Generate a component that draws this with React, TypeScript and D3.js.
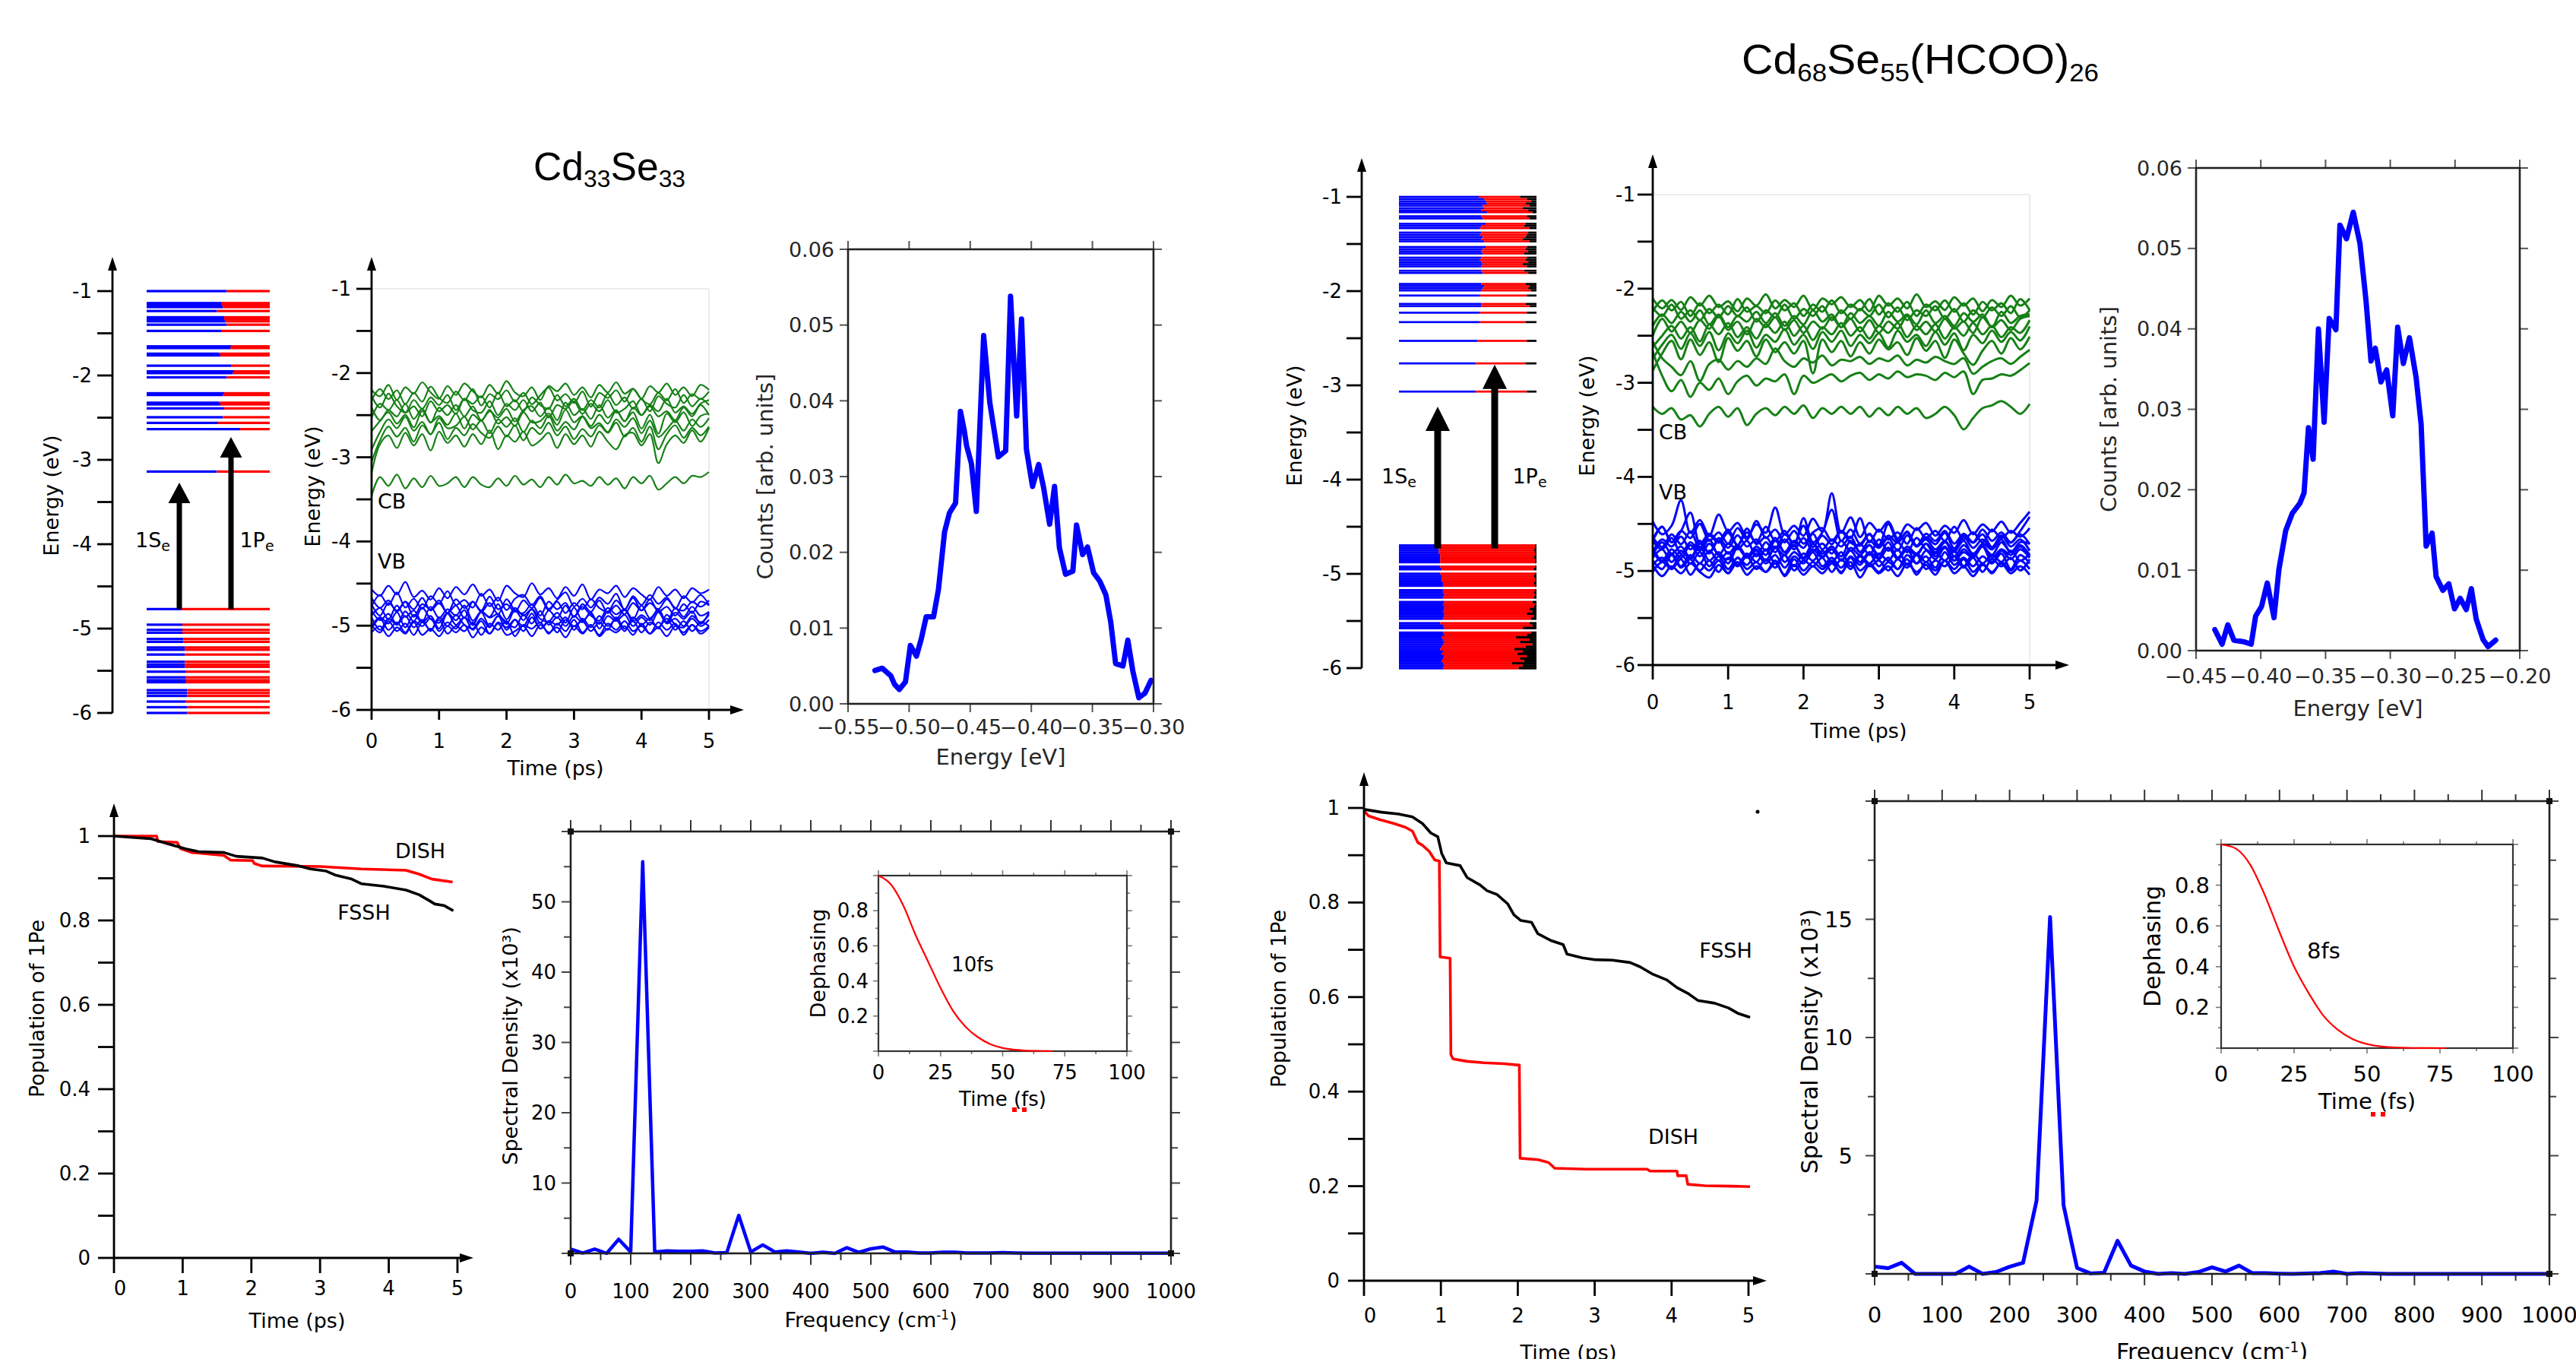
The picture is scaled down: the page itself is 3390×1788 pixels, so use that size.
import React from "react";
import * as d3 from "d3";

const W = 3390;
const H = 1788;
const SANS = "'DejaVu Sans', 'Liberation Sans', sans-serif";
const TITLE_FONT = "'Liberation Sans Narrow', 'Liberation Sans', sans-serif";
const BLUE = "#0000ff";
const RED = "#ff0000";
const GREEN = "#168016";

// ---------- energy level diagrams ----------
const cd33CbEnergy = [-1.0, -1.142, -1.165, -1.189, -1.236, -1.31, -1.334, -1.358, -1.398, -1.472, -1.655, -1.675, -1.742, -1.762, -1.884, -1.951, -1.972, -2.022, -2.211, -2.231, -2.323, -2.343, -2.39, -2.495, -2.562, -2.636, -3.139];
const cd33CbBlue = [0.65, 0.61, 0.61, 0.62, 0.57, 0.63, 0.63, 0.64, 0.65, 0.61, 0.69, 0.68, 0.59, 0.6, 0.69, 0.71, 0.7, 0.65, 0.63, 0.62, 0.59, 0.6, 0.63, 0.62, 0.58, 0.76, 0.57];
const cd33VbEnergy = [-4.769, -4.954, -5.015, -5.049, -5.123, -5.157, -5.224, -5.251, -5.308, -5.393, -5.426, -5.453, -5.511, -5.578, -5.612, -5.636, -5.73, -5.764, -5.798, -5.865, -5.932, -6.0];
const cd33VbBlue = [0.28, 0.29, 0.29, 0.29, 0.3, 0.3, 0.31, 0.31, 0.31, 0.31, 0.31, 0.31, 0.32, 0.32, 0.32, 0.32, 0.33, 0.33, 0.33, 0.32, 0.33, 0.33];

const cd68CbEnergy = [-1.0, -1.023, -1.047, -1.07, -1.093, -1.12, -1.143, -1.163, -1.206, -1.229, -1.286, -1.309, -1.332, -1.379, -1.402, -1.425, -1.449, -1.472, -1.532, -1.555, -1.578, -1.601, -1.645, -1.668, -1.691, -1.714, -1.738, -1.784, -1.807, -1.924, -1.947, -1.97, -1.993, -2.047, -2.136, -2.159, -2.229, -2.329, -2.528, -2.767, -3.066];
const cd68CbBlue = [0.58, 0.62, 0.63, 0.64, 0.61, 0.62, 0.6, 0.64, 0.6, 0.61, 0.63, 0.6, 0.59, 0.6, 0.59, 0.61, 0.6, 0.62, 0.63, 0.61, 0.6, 0.61, 0.6, 0.59, 0.6, 0.61, 0.6, 0.6, 0.61, 0.6, 0.62, 0.61, 0.6, 0.59, 0.6, 0.6, 0.59, 0.59, 0.57, 0.56, 0.56];
const cd68CbRed = [0.88, 0.93, 0.96, 0.92, 0.95, 0.9, 0.94, 0.97, 0.93, 0.95, 0.92, 0.91, 0.95, 0.94, 0.93, 0.92, 0.9, 0.95, 0.93, 0.92, 0.94, 0.91, 0.93, 0.92, 0.94, 0.9, 0.93, 0.91, 0.94, 0.92, 0.95, 0.94, 0.96, 0.93, 0.92, 0.95, 0.93, 0.92, 0.93, 0.92, 0.93];
const cd68VbEnergy = [-4.7, -4.725, -4.75, -4.775, -4.8, -4.825, -4.85, -4.875, -4.925, -4.95, -5.0, -5.025, -5.05, -5.075, -5.1, -5.125, -5.175, -5.2, -5.225, -5.25, -5.3, -5.325, -5.35, -5.375, -5.4, -5.425, -5.45, -5.475, -5.525, -5.55, -5.575, -5.625, -5.65, -5.675, -5.7, -5.725, -5.75, -5.775, -5.8, -5.825, -5.85, -5.875, -5.9, -5.925, -5.95, -5.975, -6.0];
const cd68VbBlue = [0.28, 0.29, 0.29, 0.29, 0.3, 0.3, 0.3, 0.3, 0.3, 0.31, 0.3, 0.31, 0.31, 0.31, 0.32, 0.32, 0.32, 0.32, 0.33, 0.32, 0.33, 0.32, 0.33, 0.33, 0.32, 0.33, 0.33, 0.32, 0.3, 0.32, 0.33, 0.32, 0.33, 0.31, 0.32, 0.33, 0.32, 0.31, 0.3, 0.32, 0.31, 0.33, 0.32, 0.31, 0.32, 0.33, 0.32];
const cd68VbRed = [0.99, 0.99, 0.98, 0.99, 0.99, 0.98, 0.99, 0.99, 0.99, 0.98, 0.99, 0.98, 0.99, 0.99, 0.98, 0.99, 0.99, 0.98, 0.99, 0.98, 0.97, 0.99, 0.98, 0.95, 0.97, 0.93, 0.98, 0.96, 0.95, 0.97, 0.9, 0.96, 0.93, 0.85, 0.95, 0.88, 0.97, 0.92, 0.84, 0.9, 0.86, 0.93, 0.88, 0.91, 0.82, 0.9, 0.87];

// ---------- band energies vs time: base (eV) + deviation (in units of DEV_UNIT eV) ----------
const DEV_UNIT = 0.015;
const cd33CbBase = [-2.2, -2.28, -2.35, -2.41, -2.47, -2.54, -2.61, -2.68, -2.77, -3.28];
const cd33CbDev = [
  [0, -5, 4, -8, 2, -3, 6, -2, -7, 3, -4, 5, -1, -6, 4, -3, 7, -2, -5, 2, -8, 3, -1, 5, -4, 2, -6, 4, -2, 6, -3, 1, -7, 3, -2, 5, -4, 2, -5, 4, 0],
  [-3, 6, -2, 5, -6, 3, -4, 8, -1, -5, 4, -3, 6, -7, 2, -2, 5, -4, 3, -6, 1, 7, -3, 2, -5, 4, -8, 3, -1, 5, -4, 6, -2, -6, 3, -3, 6, -5, 2, -2, 4],
  [5, -4, 7, -3, -8, 2, -5, 4, -2, 6, -6, 3, -1, 5, -4, 8, -3, 2, -7, 4, -2, -5, 6, -3, 3, -6, 2, -4, 7, -2, 4, -5, 3, -7, 5, -1, -4, 6, -3, 3, -2],
  [-8, 3, -2, 6, -4, 1, -7, 5, -3, 2, -5, 7, -2, -4, 5, -6, 3, -2, 6, -3, 4, -8, 2, -1, 5, -5, 3, -3, 6, -4, -1, 5, -6, 2, -3, 7, -4, 1, -5, 3, 6],
  [4, -6, 2, -3, 7, -5, 3, -8, 4, -2, 6, -3, 5, -6, 1, -4, 3, -7, 2, 5, -3, 4, -6, 8, -2, 3, -5, 6, -4, 2, -7, 4, -2, 5, -3, 1, -6, 4, -3, 6, -2],
  [-10, -2, 5, -4, 3, -7, 6, -3, 2, -5, 4, -8, 3, -2, 7, -4, 1, -6, 5, -3, -2, 4, -5, 7, -3, 2, -6, 3, -4, 6, -2, 5, -8, 3, -12, 4, -3, 5, -6, 2, 4],
  [-20, -6, 4, -3, 6, -5, 2, -8, 5, -3, -1, 6, -4, 3, -7, 4, -2, 5, -6, 3, -3, 7, -5, 2, -4, 6, -3, 1, -6, 4, -2, 5, -7, 3, -10, -4, 3, -5, 4, -2, 5],
  [-25, -8, 3, -5, 2, -9, 4, -3, 6, -7, 2, -4, 5, -2, -6, 3, -5, 4, -8, 2, -3, 6, -4, 3, -7, 1, -5, 4, -2, 6, -5, 2, -9, 3, -15, -3, 4, -6, 2, -4, 3],
  [-28, -5, 2, -8, 4, -6, 3, -10, 5, -4, 2, -7, 3, -5, 6, -9, 2, -3, 5, -6, -2, 4, -8, 3, -5, 2, -7, 5, -3, -9, 2, 4, -6, 3, -20, -5, 2, -4, 6, -3, 8],
  [-12, 3, -4, 5, -6, 2, -5, 4, -4, -2, 3, -5, 3, -3, -5, 2, -4, 4, -3, 1, -5, 3, -3, 5, -2, 0, -4, 3, -3, 2, -6, 3, -2, 4, -7, -2, 3, -2, 4, 3, 7],
];
const cd33VbBase = [-4.6, -4.71, -4.79, -4.85, -4.89, -4.93, -4.96, -4.99, -5.02, -5.05, -4.76];
const cd33VbDev = [
  [2, -3, 5, -2, 8, -4, 1, -6, 3, -5, 4, -2, 6, -3, 2, -7, 5, -1, -4, 7, -2, 3, -5, 4, -3, 6, -6, 2, -1, 5, -4, 3, -2, -6, 4, -3, 2, -5, 3, -1, 2],
  [-4, 5, -3, 7, -5, 2, -6, 4, -2, 8, -3, 1, -5, 6, -4, 3, -7, 2, 5, -3, 4, -6, 1, 7, -4, 2, -5, 3, -2, 6, -7, 4, -3, 5, -2, 3, -6, 4, -1, 5, -3],
  [3, -6, 4, -2, 5, -7, 3, -1, 6, -4, 2, -8, 5, -3, 4, -5, 7, -2, -4, 3, -6, 5, -1, 4, -7, 3, -3, 6, -4, 2, -5, 4, -2, 7, -3, 1, -6, 3, -4, 5, 2],
  [-2, 4, -5, 6, -3, 2, -7, 5, -4, 3, -2, 6, -6, 1, -3, 7, -5, 4, -2, 3, -8, 2, -4, 6, -3, 5, -2, -6, 4, -1, 3, -5, 6, -4, 2, -7, 4, -3, 5, -2, 1],
  [5, -3, 2, -6, 4, -4, 7, -2, -5, 3, -3, 5, -7, 4, -1, 2, -6, 5, -3, 6, -2, -4, 3, -5, 7, -3, 2, -6, 4, -2, 5, -4, 1, -3, 6, -5, 3, -2, 4, -6, 3],
  [-5, 2, -3, 6, -6, 4, -2, 3, -7, 5, -4, 2, -3, 6, -5, 3, -2, -6, 4, -3, 7, -4, 2, -5, 3, -2, 6, -7, 3, -1, 4, -5, 2, -4, 6, -3, 1, -5, 3, -2, 4],
  [4, -6, 3, -2, 5, -4, 2, -7, 4, -3, 6, -2, -5, 3, -4, 5, -6, 2, -3, 7, -5, 1, -2, 4, -6, 3, -4, 5, -3, 2, -7, 4, -2, 3, -5, 6, -2, -4, 3, -3, 2],
  [-3, 5, -4, 2, -6, 3, -1, 5, -5, 2, -3, 6, -4, 3, -7, 2, -2, 4, -5, 6, -3, 2, -6, 4, -1, 3, -5, 2, -4, 6, -3, 3, -6, 2, -2, 5, -4, 3, -5, 2, -1],
  [2, -4, 5, -3, 3, -6, 4, -2, 6, -5, 1, -3, 4, -6, 3, -2, 5, -7, 2, -1, 4, -5, 3, -3, 6, -4, 2, -6, 3, -2, 5, -3, 1, -5, 4, -2, 3, -6, 2, -3, 1],
  [-2, 3, -5, 2, -3, 6, -4, 1, -5, 3, -2, 4, -6, 2, -3, 5, -4, -1, 3, -5, 4, -2, 2, -6, 3, -3, 4, -5, 1, -2, 3, -4, 5, -3, 2, -5, 3, -2, 4, -3, 2],
  [6, -2, 4, -5, 3, -3, 6, -4, 2, -6, 5, -2, 3, -4, 7, -3, 1, -5, 4, -2, 6, -4, 3, -6, 2, -3, 5, -2, -5, 4, -3, 6, -4, 2, -3, 5, -2, -4, 3, -1, 4],
];
const cd68CbBase = [-2.15, -2.2, -2.26, -2.32, -2.38, -2.44, -2.52, -2.6, -2.68, -2.85, -3.3];
const cd68CbDev = [
  [3, -4, 2, -5, 4, -2, 5, -3, 1, -6, 3, -2, 6, -4, 2, -3, 5, -5, 3, -1, 4, -3, 2, -6, 5, -2, 3, -4, 6, -3, 1, -5, 4, -2, 3, -6, 2, -3, 5, -2, 3],
  [-3, 5, -2, 4, -6, 3, -4, 2, -5, 6, -3, 1, -4, 5, -2, 3, -6, 2, -3, 5, -4, 2, -2, 6, -5, 3, -3, 4, -6, 2, -2, 5, -3, 3, -5, 4, -2, 3, -4, 6, -2],
  [4, -2, 6, -4, 2, -5, 3, -3, 5, -2, 4, -6, 2, -3, 6, -4, 3, -2, 5, -5, 2, -4, 3, -2, 6, -3, 4, -5, 2, -2, 5, -4, 3, -6, 2, -3, 4, -2, 5, -3, 2],
  [-5, 3, -3, 5, -2, 6, -4, 3, -6, 2, -2, 5, -3, 4, -5, 2, -4, 6, -2, 3, -6, 4, -3, 2, -5, 5, -2, 3, -4, 6, -3, 2, -5, 4, -2, 3, -6, 5, -3, 2, 3],
  [-8, 4, -5, 2, -6, 3, -3, 6, -4, 2, -7, 4, -2, 5, -4, 3, -6, 2, -3, 5, -2, 4, -5, 3, -6, 2, -3, 6, -4, 2, -5, 4, -3, 2, -6, 5, -2, 3, -4, 4, 6],
  [-12, -4, 3, -6, 2, -8, 4, -3, 5, -5, 2, -6, 4, -2, 6, -4, 3, -7, 2, -3, 5, -4, 2, -6, 3, -2, 5, -5, 3, -3, 4, -6, 2, -4, 5, -3, 3, -5, 2, -2, 7],
  [-15, -5, 2, -8, 3, -6, 4, -9, 3, -4, 5, -7, 2, -3, 6, -5, 2, -8, 4, -3, 5, -6, 2, -4, 3, -7, 5, -3, 2, -6, 4, -5, 3, -9, 2, -4, 5, -3, 4, -2, 8],
  [-18, -6, 3, -10, 4, -7, 2, -12, 5, -4, 3, -8, 4, -5, 2, -6, 3, -20, 4, -5, 3, -8, 2, -6, 4, -3, 2, -7, 5, -4, 3, -9, 4, -6, -14, -4, 3, -6, 5, -3, 6],
  [8, -4, -10, -16, -6, -20, -8, -5, -12, -6, -10, -4, -8, 3, -6, -10, -4, -7, -2, -9, -5, -6, -3, -8, -4, -6, -2, -9, -5, -7, -3, -6, -8, -4, -15, -10, -6, -4, -8, -3, 2],
  [12, -5, -16, -8, -20, -10, -15, -7, -18, -9, -5, -12, -7, -9, -4, -18, -5, -10, -7, -4, -9, -5, -3, -8, -4, -7, -2, -6, -4, -5, -8, -3, -6, -2, -18, -8, -7, -4, -5, -1, 4],
  [3, -2, 2, -6, -3, -11, -2, 3, -4, 2, -10, -2, 2, -3, 3, -2, 4, -5, 2, -2, 3, -2, 3, -4, 2, -3, 3, -2, 2, -5, -2, 3, -3, -13, -5, 2, 4, 7, 3, -2, 5],
];
const cd68VbBase = [-4.55, -4.62, -4.67, -4.71, -4.74, -4.77, -4.8, -4.83, -4.86, -4.89, -4.92, -4.95, -4.98, -4.65];
const cd68VbDev = [
  [5, -4, 2, 20, -3, 6, -5, 10, -2, 4, -6, 3, -3, 15, -4, 2, -5, 7, -2, 25, -3, 8, -6, 4, -2, 5, -7, 3, -1, 4, -5, 2, -3, 6, -4, 3, -2, 5, -3, 4, 12],
  [-3, 6, -5, 3, -2, 8, -4, 2, -6, 5, -3, 10, -2, 4, -5, 3, -6, 2, 5, -4, 3, -2, 12, -5, 4, -3, 2, -6, 5, -2, 3, -4, 6, -3, 2, -5, 4, -2, 3, -1, 5],
  [2, -5, 4, -3, 6, -6, 3, -2, 5, -4, 8, -3, 2, -6, 4, -2, 10, -5, 3, -3, 6, -2, -4, 4, -5, 3, -2, 6, -4, 2, -3, 5, -6, 3, -2, 4, -5, 3, -2, 4, -3],
  [-6, 3, -2, 5, -4, 2, -7, 4, -3, 6, -2, 3, -5, 4, -6, 2, -3, 7, -4, 3, -2, 5, -6, 2, -3, 4, -5, 6, -2, 3, -4, 2, -6, 5, -3, 3, -4, 6, -2, 3, -5],
  [4, -2, 6, -5, 3, -3, 5, -6, 2, -2, 4, -7, 3, -4, 5, -2, 6, -3, 2, -5, 4, -3, 2, -6, 5, -3, 3, -4, 6, -2, -5, 3, -3, 4, -6, 2, -2, 5, -4, 3, 2],
  [-4, 5, -3, 2, -6, 4, -2, 6, -3, 3, -5, 2, -4, 6, -2, 3, -6, 4, -3, 2, -5, 6, -2, 3, -4, 5, -6, 2, -3, 4, -2, 6, -5, 3, -3, 2, -4, 5, -2, 3, -4],
  [3, -6, 2, -4, 5, -3, 6, -2, -5, 4, -3, 2, -6, 3, -2, 5, -4, 6, -3, 2, -6, 3, -2, 5, -4, 3, -5, 2, -2, 6, -3, 4, -6, 2, -3, 5, -4, 2, -2, 4, -3],
  [-2, 4, -5, 3, -3, 6, -4, 2, -6, 5, -2, 3, -4, 6, -5, 2, -3, 4, -2, 6, -4, 3, -5, 2, -3, 5, -2, 4, -6, 3, -3, 5, -4, 2, -2, 6, -5, 3, -3, 4, -2],
  [5, -3, 3, -6, 2, -4, 5, -2, 4, -5, 3, -3, 6, -4, 2, -6, 3, -2, 5, -3, 4, -6, 2, -4, 3, -2, 6, -5, 3, -3, 4, -2, 5, -6, 3, -4, 2, -3, 5, -2, 3],
  [-3, 2, -5, 4, -2, 6, -4, 3, -6, 2, -3, 5, -2, 4, -5, 3, -2, 6, -4, 2, -5, 3, -3, 5, -4, 2, -6, 4, -2, 3, -5, 6, -3, 2, -4, 3, -2, 5, -6, 4, -2],
  [2, -4, 6, -3, 3, -5, 2, -6, 4, -2, 5, -4, 3, -3, 6, -5, 2, -2, 4, -6, 3, -4, 5, -2, 2, -5, 3, -3, 6, -4, 2, -2, 5, -3, 4, -6, 3, -2, 4, -5, 3],
  [-4, 3, -2, 5, -6, 2, -3, 4, -5, 6, -2, 3, -4, 2, -6, 5, -3, 3, -2, 4, -5, 6, -3, 2, -4, 3, -2, 5, -6, 3, -3, 4, -2, 5, -4, 2, -5, 3, -3, 4, -2],
  [3, -5, 2, -3, 4, -2, -6, 3, -3, 5, -4, 2, -2, 6, -5, 3, -4, 2, -3, 4, -2, 5, -6, 3, -3, 2, -5, 4, -2, 3, -4, 6, -3, 2, -5, 3, -2, 4, -3, 2, -4],
  [-2, 8, -3, 5, 18, -4, 3, -2, 6, -5, 4, -3, 8, -2, 5, -6, 14, -3, 4, 20, -2, 6, -4, 3, -5, 10, -2, 4, -6, 3, -2, 5, -4, 3, -3, 6, -2, 4, -3, 5, 15],
];

// ---------- energy histograms [E (eV), counts] ----------
const cd33Hist = [[-0.528, 0.0044], [-0.522, 0.0047], [-0.515, 0.0037], [-0.512, 0.0026], [-0.508, 0.0019], [-0.503, 0.0029], [-0.499, 0.0077], [-0.494, 0.0063], [-0.49, 0.0086], [-0.486, 0.0115], [-0.48, 0.0115], [-0.476, 0.0151], [-0.471, 0.0227], [-0.467, 0.0252], [-0.462, 0.0265], [-0.458, 0.0386], [-0.455, 0.0362], [-0.453, 0.0341], [-0.449, 0.0317], [-0.445, 0.0254], [-0.439, 0.0486], [-0.434, 0.0398], [-0.427, 0.0326], [-0.421, 0.0334], [-0.417, 0.0538], [-0.412, 0.038], [-0.408, 0.0508], [-0.404, 0.0336], [-0.399, 0.0287], [-0.394, 0.0316], [-0.39, 0.0286], [-0.385, 0.0237], [-0.381, 0.0287], [-0.377, 0.0206], [-0.372, 0.0171], [-0.366, 0.0175], [-0.363, 0.0236], [-0.358, 0.0197], [-0.354, 0.0207], [-0.349, 0.0173], [-0.344, 0.0162], [-0.339, 0.0144], [-0.335, 0.0108], [-0.331, 0.0053], [-0.325, 0.005], [-0.321, 0.0084], [-0.317, 0.0044], [-0.312, 0.0008], [-0.307, 0.0014], [-0.302, 0.0031]];
const cd68Hist = [[-0.4355, 0.0026], [-0.4299, 0.0008], [-0.4255, 0.0032], [-0.4208, 0.0013], [-0.4131, 0.0011], [-0.4074, 0.0008], [-0.404, 0.0043], [-0.3994, 0.0055], [-0.395, 0.0084], [-0.3898, 0.0041], [-0.386, 0.0101], [-0.3808, 0.0149], [-0.3756, 0.0171], [-0.3699, 0.0183], [-0.3666, 0.0196], [-0.3632, 0.0277], [-0.3596, 0.0238], [-0.3555, 0.04], [-0.3511, 0.0284], [-0.3472, 0.0413], [-0.342, 0.0399], [-0.3389, 0.0529], [-0.3338, 0.0512], [-0.3286, 0.0545], [-0.3234, 0.0506], [-0.3188, 0.0436], [-0.3149, 0.036], [-0.3116, 0.0376], [-0.3072, 0.0334], [-0.3028, 0.0349], [-0.2981, 0.0292], [-0.2943, 0.0402], [-0.2899, 0.0357], [-0.2852, 0.0389], [-0.2801, 0.034], [-0.2762, 0.0282], [-0.2723, 0.013], [-0.2677, 0.0146], [-0.2646, 0.0092], [-0.2594, 0.0075], [-0.2548, 0.0083], [-0.2504, 0.0052], [-0.246, 0.0065], [-0.2413, 0.0051], [-0.2374, 0.0077], [-0.2336, 0.0039], [-0.2284, 0.0014], [-0.2245, 0.0005], [-0.2186, 0.0013]];

// ---------- 1Pe population [t (ps), population] ----------
const cd33Dish = [[0, 1.0], [0.62, 1.0], [0.64, 0.987], [0.92, 0.985], [0.97, 0.97], [1.13, 0.961], [1.6, 0.954], [1.7, 0.943], [2.02, 0.942], [2.04, 0.935], [2.16, 0.929], [3.0, 0.928], [3.6, 0.922], [4.25, 0.919], [4.44, 0.91], [4.63, 0.898], [4.93, 0.891]];
const cd33Fssh = [[0, 1.0], [0.34, 0.996], [0.53, 0.994], [0.76, 0.983], [1.04, 0.97], [1.23, 0.963], [1.6, 0.961], [1.78, 0.952], [2.16, 0.948], [2.34, 0.939], [2.67, 0.93], [2.86, 0.922], [3.09, 0.917], [3.23, 0.907], [3.46, 0.898], [3.6, 0.887], [3.93, 0.881], [4.25, 0.872], [4.44, 0.861], [4.58, 0.848], [4.67, 0.839], [4.81, 0.835], [4.94, 0.823]];
const cd68Dish = [[0, 0.994], [0.06, 0.983], [0.21, 0.975], [0.39, 0.967], [0.54, 0.959], [0.63, 0.951], [0.7, 0.927], [0.76, 0.921], [0.85, 0.908], [0.92, 0.89], [0.98, 0.888], [0.99, 0.685], [1.12, 0.682], [1.13, 0.478], [1.16, 0.469], [1.34, 0.464], [1.56, 0.461], [1.82, 0.459], [2.02, 0.456], [2.03, 0.259], [2.26, 0.256], [2.4, 0.25], [2.48, 0.238], [2.88, 0.236], [3.68, 0.236], [3.72, 0.232], [4.07, 0.232], [4.08, 0.222], [4.19, 0.222], [4.21, 0.204], [4.43, 0.201], [4.78, 0.2], [5.02, 0.199]];
const cd68Fssh = [[0, 0.997], [0.23, 0.991], [0.45, 0.987], [0.63, 0.981], [0.76, 0.967], [0.87, 0.947], [0.96, 0.939], [1.01, 0.904], [1.07, 0.884], [1.25, 0.878], [1.34, 0.853], [1.51, 0.837], [1.6, 0.825], [1.73, 0.817], [1.87, 0.797], [1.95, 0.774], [2.04, 0.762], [2.18, 0.758], [2.26, 0.734], [2.44, 0.719], [2.59, 0.711], [2.64, 0.691], [2.84, 0.683], [3.01, 0.679], [3.23, 0.678], [3.46, 0.673], [3.59, 0.664], [3.76, 0.648], [3.94, 0.636], [4.07, 0.62], [4.21, 0.608], [4.34, 0.593], [4.56, 0.587], [4.74, 0.577], [4.87, 0.565], [5.02, 0.557]];

// ---------- spectral densities, sampled every 20 cm-1 (x10^3) ----------
const FREQ_STEP = 20;
const cd33Spectral = [0.6, 0.05, 0.6, 0, 2.0, 0.2, 55.7, 0.2, 0.35, 0.3, 0.3, 0.35, 0.05, 0.1, 5.4, 0.2, 1.2, 0.2, 0.35, 0.2, 0, 0.15, 0, 0.8, 0.15, 0.65, 0.9, 0.2, 0.2, 0.05, 0.05, 0.15, 0.15, 0.05, 0.05, 0.05, 0.1, 0.05, 0.02, 0.02, 0.02, 0.02, 0.02, 0.02, 0.02, 0.02, 0.02, 0.02, 0.02, 0.02, 0.02];
const cd68Spectral = [0.31, 0.24, 0.47, 0, 0, 0, 0, 0.31, 0, 0.08, 0.3, 0.47, 3.1, 15.1, 2.9, 0.25, 0.02, 0.05, 1.4, 0.35, 0.1, 0, 0.03, 0, 0.08, 0.28, 0.1, 0.35, 0.03, 0.03, 0.01, 0, 0.02, 0.03, 0.1, 0, 0.03, 0.02, 0, 0, 0, 0, 0, 0, 0, 0, 0, 0, 0, 0, 0];

// ---------- dephasing functions ----------
const cd33DephT = [0, 5, 10, 15, 20, 25, 30, 35, 40, 45, 50, 55, 60, 65, 70];
const cd33Deph = [1.0, 0.95, 0.83, 0.66, 0.51, 0.36, 0.23, 0.14, 0.08, 0.04, 0.018, 0.008, 0.003, 0.001, 0];
const cd68DephT = [0, 5, 10, 15, 20, 25, 30, 35, 40, 45, 50, 55, 60, 65, 70, 77];
const cd68Deph = [1.0, 0.98, 0.9, 0.75, 0.57, 0.4, 0.27, 0.16, 0.09, 0.045, 0.02, 0.008, 0.003, 0.001, 0.0005, 0];

// ---------- helpers ----------
const upArrow = (x, tip, w, h) => `M${x},${tip}L${x - w / 2},${tip + h}L${x + w / 2},${tip + h}Z`;
const rightArrow = (tip, y, w, h) => `M${tip},${y}L${tip - h},${y - w / 2}L${tip - h},${y + w / 2}Z`;

function RotLabel({ x, y, size, children, family = SANS, fill = "#000" }) {
  return (
    <text transform={`translate(${x},${y}) rotate(-90)`} textAnchor="middle" dominantBaseline="central"
      fontSize={size} fontFamily={family} fill={fill}>{children}</text>
  );
}

function LevelDiagram({ c }) {
  const y = d3.scaleLinear().domain([-6, -1]).range([c.yBottom, c.yTop]);
  const w = c.x1 - c.x0;
  const levels = [
    ...c.cbE.map((e, i) => ({ e, b: c.cbB[i], r: c.cbR ? c.cbR[i] : 1, h: c.barH })),
    ...c.vbE.map((e, i) => ({ e, b: c.vbB[i], r: c.vbR ? c.vbR[i] : 1, h: c.vbBarH })),
  ];
  const arrow = (a, i) => {
    const yb = y(c.arrowBase), yt = y(a.to), s = c.shaft / 2, hw = c.headW / 2, hl = c.headL;
    const d = `M${a.x - s},${yb}L${a.x - s},${yt + hl}L${a.x - hw},${yt + hl}L${a.x},${yt}L${a.x + hw},${yt + hl}L${a.x + s},${yt + hl}L${a.x + s},${yb}Z`;
    return <path key={i} d={d} fill="#000" />;
  };
  return (
    <g>
      <line x1={c.axisX} x2={c.axisX} y1={y(-6)} y2={c.tip + 10} stroke="#000" strokeWidth={2.8} />
      <path d={upArrow(c.axisX, c.tip, 12, 18)} fill="#000" />
      {d3.range(-6, -0.9, 0.5).map((t) => (
        <line key={t} x1={c.axisX - 20} x2={c.axisX} y1={y(t)} y2={y(t)} stroke="#000" strokeWidth={2.8} />
      ))}
      {d3.range(-6, 0, 1).map((t) => (
        <text key={t} x={c.labelX} y={y(t)} textAnchor="end" dominantBaseline="central" fontSize={26}>{`${t}`}</text>
      ))}
      <RotLabel x={c.ylabX} y={c.ylabY} size={27}>Energy (eV)</RotLabel>
      {levels.map((lv, i) => {
        const yy = y(lv.e) - lv.h / 2;
        const xb = c.x0 + w * lv.b;
        const xr = c.x0 + w * lv.r;
        return (
          <g key={i}>
            <rect x={c.x0} y={yy} width={xb - c.x0} height={lv.h} fill={BLUE} />
            <rect x={xb} y={yy} width={xr - xb} height={lv.h} fill={RED} />
            {lv.r < 1 && <rect x={xr} y={yy} width={c.x1 - xr} height={lv.h} fill="#000" />}
          </g>
        );
      })}
      {c.arrows.map(arrow)}
      <text x={c.seX} y={c.labY} textAnchor="middle" fontSize={27}>1S<tspan fontSize={19} dy={5}>e</tspan></text>
      <text x={c.peX} y={c.labY} textAnchor="middle" fontSize={27}>1P<tspan fontSize={19} dy={5}>e</tspan></text>
    </g>
  );
}

function BandTimeSeries({ c }) {
  const x = d3.scaleLinear().domain([0, 5]).range([c.x0, c.x1]);
  const y = d3.scaleLinear().domain([-6, -1]).range([c.yBottom, c.yTop]);
  const path = (base, dev) =>
    d3.line().x((_, i) => x((i / (dev.length - 1)) * 5)).y((d) => y(base + d * DEV_UNIT)).curve(d3.curveCatmullRom)(dev);
  return (
    <g>
      <line x1={x(0)} x2={x(5)} y1={y(-1)} y2={y(-1)} stroke="#ececec" strokeWidth={2} />
      <line x1={x(5)} x2={x(5)} y1={y(-1)} y2={y(-6)} stroke="#ececec" strokeWidth={2} />
      {c.cbBase.map((b, i) => (
        <path key={"g" + i} d={path(b, c.cbDev[i])} fill="none" stroke={GREEN} strokeWidth={c.lw} strokeLinejoin="round" />
      ))}
      {c.vbBase.map((b, i) => (
        <path key={"b" + i} d={path(b, c.vbDev[i])} fill="none" stroke={BLUE} strokeWidth={c.lw} strokeLinejoin="round" />
      ))}
      <line x1={x(0)} x2={x(0)} y1={y(-6)} y2={c.tipTop + 10} stroke="#000" strokeWidth={2.8} />
      <path d={upArrow(x(0), c.tipTop, 12, 18)} fill="#000" />
      <line x1={x(0)} x2={c.tipRight - 10} y1={y(-6)} y2={y(-6)} stroke="#000" strokeWidth={2.8} />
      <path d={rightArrow(c.tipRight, y(-6), 12, 18)} fill="#000" />
      {d3.range(-6, -0.9, 0.5).map((t) => (
        <line key={t} x1={x(0) - 20} x2={x(0)} y1={y(t)} y2={y(t)} stroke="#000" strokeWidth={2.8} />
      ))}
      {d3.range(-6, 0, 1).map((t) => (
        <text key={t} x={c.labelX} y={y(t)} textAnchor="end" dominantBaseline="central" fontSize={26}>{`${t}`}</text>
      ))}
      {x.ticks(5).map((t) => (
        <g key={t}>
          <line x1={x(t)} x2={x(t)} y1={y(-6)} y2={y(-6) + c.xTick} stroke="#000" strokeWidth={2.8} />
          <text x={x(t)} y={c.xLabY} textAnchor="middle" fontSize={26}>{t}</text>
        </g>
      ))}
      <text x={c.timeX} y={c.timeY} textAnchor="middle" fontSize={27}>Time (ps)</text>
      <RotLabel x={c.ylabX} y={c.ylabY} size={27}>Energy (eV)</RotLabel>
      <text x={x(0) + 8} y={c.cbY} fontSize={27}>CB</text>
      <text x={x(0) + 8} y={c.vbY} fontSize={27}>VB</text>
    </g>
  );
}

function Histogram({ c }) {
  const x = d3.scaleLinear().domain(c.xDomain).range([c.x0, c.x1]);
  const y = d3.scaleLinear().domain([0, 0.06]).range([c.y0, c.y1]);
  const xt = d3.range(0, 6).map((i) => c.xDomain[0] + i * 0.05);
  const yt = d3.range(0, 7).map((i) => i * 0.01);
  const line = d3.line().x((d) => x(d[0])).y((d) => y(d[1]))(c.data);
  const tc = "#555";
  return (
    <g>
      {yt.map((v) => (
        <g key={v}>
          <line x1={c.x0 - 11} x2={c.x0} y1={y(v)} y2={y(v)} stroke={tc} strokeWidth={2} />
          <line x1={c.x1} x2={c.x1 + 11} y1={y(v)} y2={y(v)} stroke={tc} strokeWidth={2} />
          <text x={c.x0 - 18} y={y(v)} textAnchor="end" dominantBaseline="central" fontSize={27} fill="#262626">{v.toFixed(2)}</text>
        </g>
      ))}
      {xt.map((v) => (
        <g key={v}>
          <line x1={x(v)} x2={x(v)} y1={c.y1 - 11} y2={c.y1} stroke={tc} strokeWidth={2} />
          <line x1={x(v)} x2={x(v)} y1={c.y0} y2={c.y0 + 11} stroke={tc} strokeWidth={2} />
          <text x={x(v)} y={c.xLabY} textAnchor="middle" fontSize={27} fill="#262626">{d3.format(".2f")(v).replace("-", "\u2212")}</text>
        </g>
      ))}
      <path d={line} fill="none" stroke={BLUE} strokeWidth={7} strokeLinejoin="round" strokeLinecap="round" />
      <rect x={c.x0} y={c.y1} width={c.x1 - c.x0} height={c.y0 - c.y1} fill="none" stroke="#222" strokeWidth={2.6} />
      <text x={(c.x0 + c.x1) / 2} y={c.eLabY} textAnchor="middle" fontSize={29} fill="#262626">Energy [eV]</text>
      <RotLabel x={c.ylabX} y={(c.y0 + c.y1) / 2} size={29} fill="#262626">Counts [arb. units]</RotLabel>
    </g>
  );
}

function Population({ c }) {
  const x = d3.scaleLinear().domain([0, 5]).range([c.x0, c.x1]);
  const y = d3.scaleLinear().domain([0, 1]).range([c.y0, c.y1]);
  const ln = d3.line().x((d) => x(d[0])).y((d) => y(d[1]));
  return (
    <g>
      <path d={ln(c.dish)} fill="none" stroke={RED} strokeWidth={3.6} strokeLinejoin="round" />
      <path d={ln(c.fssh)} fill="none" stroke="#000" strokeWidth={3.6} strokeLinejoin="round" />
      <line x1={c.x0} x2={c.x0} y1={c.y0} y2={c.tipTop + 10} stroke="#000" strokeWidth={2.8} />
      <path d={upArrow(c.x0, c.tipTop, 12, 18)} fill="#000" />
      <line x1={c.x0} x2={c.tipRight - 10} y1={c.y0} y2={c.y0} stroke="#000" strokeWidth={2.8} />
      <path d={rightArrow(c.tipRight, c.y0, 12, 18)} fill="#000" />
      {d3.range(0, 11).map((i) => (
        <line key={i} x1={c.x0 - 21} x2={c.x0} y1={y(i / 10)} y2={y(i / 10)} stroke="#000" strokeWidth={2.8} />
      ))}
      {[0, 0.2, 0.4, 0.6, 0.8, 1].map((v) => (
        <text key={v} x={c.labelX} y={y(v)} textAnchor="end" dominantBaseline="central" fontSize={26}>{`${v}`}</text>
      ))}
      {x.ticks(5).map((t) => (
        <g key={t}>
          <line x1={x(t)} x2={x(t)} y1={c.y0} y2={c.y0 + 20} stroke="#000" strokeWidth={2.8} />
          <text x={x(t) + (t === 0 ? 8 : 0)} y={c.xLabY} textAnchor="middle" fontSize={26}>{t}</text>
        </g>
      ))}
      <text x={c.timeX} y={c.timeY} textAnchor="middle" fontSize={27}>Time (ps)</text>
      <RotLabel x={c.ylabX} y={c.ylabY} size={27}>Population of 1Pe</RotLabel>
      <text x={c.dishPos[0]} y={c.dishPos[1]} textAnchor="middle" fontSize={27}>DISH</text>
      <text x={c.fsshPos[0]} y={c.fsshPos[1]} textAnchor="middle" fontSize={27}>FSSH</text>
    </g>
  );
}

function Spectral({ c }) {
  const x = d3.scaleLinear().domain([0, 1000]).range([c.x0, c.x1]);
  const y = d3.scaleLinear().domain([0, c.yMax]).range([c.y0, c.y1]);
  const ln = d3.line().x((_, i) => x(i * FREQ_STEP)).y((d) => y(d))(c.data);
  const fs = c.fs;
  const ix = d3.scaleLinear().domain([0, 100]).range([c.ix0, c.ix1]);
  const iy = d3.scaleLinear().domain([0, 1]).range([c.iy0, c.iy1]);
  const dl = d3.line().x((d) => ix(d[0])).y((d) => iy(d[1])).curve(d3.curveMonotoneX)(c.dephT.map((t, i) => [t, c.deph[i]]));
  const sq = 8;
  return (
    <g>
      {d3.range(0, 1001, 50).map((f) => {
        const len = f % 100 === 0 ? 15 : 9;
        return (
          <g key={f}>
            <line x1={x(f)} x2={x(f)} y1={c.y1 - len} y2={c.y1} stroke="#333" strokeWidth={2} />
            <line x1={x(f)} x2={x(f)} y1={c.y0} y2={c.y0 + len} stroke="#333" strokeWidth={2} />
          </g>
        );
      })}
      {d3.range(0, c.yMax + 0.001, c.yMinor).map((v, i) => {
        const len = i % 2 === 0 ? 12 : 9;
        return (
          <g key={v}>
            <line x1={c.x0 - len} x2={c.x0} y1={y(v)} y2={y(v)} stroke="#444" strokeWidth={2} />
            <line x1={c.x1} x2={c.x1 + len} y1={y(v)} y2={y(v)} stroke="#444" strokeWidth={2} />
          </g>
        );
      })}
      {c.yLabels.map((v) => (
        <text key={v} x={c.yLabX} y={y(v)} textAnchor="end" dominantBaseline="central" fontSize={fs}>{v}</text>
      ))}
      {d3.range(0, 1001, 100).map((f) => (
        <text key={f} x={x(f)} y={c.xLabY} textAnchor="middle" fontSize={fs}>{f}</text>
      ))}
      <path d={ln} fill="none" stroke={BLUE} strokeWidth={c.lw} strokeLinejoin="round" />
      <rect x={c.x0} y={c.y1} width={c.x1 - c.x0} height={c.y0 - c.y1} fill="none" stroke="#222" strokeWidth={2.6} />
      {[[c.x0, c.y1], [c.x1, c.y1], [c.x0, c.y0], [c.x1, c.y0]].map(([a, b], i) => (
        <rect key={i} x={a - sq / 2} y={b - sq / 2} width={sq} height={sq} fill="#111" />
      ))}
      <text x={(c.x0 + c.x1) / 2} y={c.freqY} textAnchor="middle" fontSize={c.lfs}>
        Frequency (cm<tspan fontSize={c.lfs * 0.62} dy={-10}>-1</tspan><tspan dy={10}>)</tspan>
      </text>
      <RotLabel x={c.ylabX} y={c.ylabY} size={c.lfs}>Spectral Density (x10³)</RotLabel>
      {/* inset */}
      {d3.range(0, 101, 12.5).map((t, i) => (
        <g key={t}>
          <line x1={ix(t)} x2={ix(t)} y1={c.iy1 - (i % 2 ? 4 : 7)} y2={c.iy1} stroke="#777" strokeWidth={1.6} />
          <line x1={ix(t)} x2={ix(t)} y1={c.iy0} y2={c.iy0 + (i % 2 ? 4 : 7)} stroke="#777" strokeWidth={1.6} />
        </g>
      ))}
      {d3.range(0, 1.001, 0.1).map((v, i) => (
        <g key={v}>
          <line x1={c.ix0 - (i % 2 ? 4 : 7)} x2={c.ix0} y1={iy(v)} y2={iy(v)} stroke="#777" strokeWidth={1.6} />
          <line x1={c.ix1} x2={c.ix1 + (i % 2 ? 4 : 7)} y1={iy(v)} y2={iy(v)} stroke="#777" strokeWidth={1.6} />
        </g>
      ))}
      <rect x={c.ix0} y={c.iy1} width={c.ix1 - c.ix0} height={c.iy0 - c.iy1} fill="none" stroke="#333" strokeWidth={2.2} />
      <path d={dl} fill="none" stroke={RED} strokeWidth={2.2} />
      {[0.2, 0.4, 0.6, 0.8].map((v) => (
        <text key={v} x={c.iyLabX} y={iy(v)} textAnchor="end" dominantBaseline="central" fontSize={fs}>{v}</text>
      ))}
      {[0, 25, 50, 75, 100].map((t) => (
        <text key={t} x={ix(t)} y={c.ixLabY} textAnchor="middle" fontSize={fs}>{t}</text>
      ))}
      <text x={(c.ix0 + c.ix1) / 2} y={c.itimeY} textAnchor="middle" fontSize={fs}>Time (fs)</text>
      <RotLabel x={c.idephX} y={(c.iy0 + c.iy1) / 2} size={c.lfs}>Dephasing</RotLabel>
      <text x={c.noteX} y={c.noteY} textAnchor="middle" fontSize={fs}>{c.note}</text>
      <rect x={c.sqX} y={c.sqY} width={6} height={6} fill={RED} />
      <rect x={c.sqX + 13} y={c.sqY} width={6} height={6} fill={RED} />
    </g>
  );
}

// ---------- panel layouts ----------
const cd33LevelCfg = {
  yTop: 383, yBottom: 938, axisX: 148, tip: 338, labelX: 121, ylabX: 67, ylabY: 652,
  x0: 193, x1: 355, barH: 3.2, vbBarH: 3.2,
  cbE: cd33CbEnergy, cbB: cd33CbBlue, vbE: cd33VbEnergy, vbB: cd33VbBlue,
  arrowBase: -4.77, arrows: [{ x: 236, to: -3.27 }, { x: 304, to: -2.73 }],
  shaft: 7, headW: 29, headL: 27, seX: 201, peX: 338, labY: 720,
};
const cd68LevelCfg = {
  yTop: 259, yBottom: 879, axisX: 1792, tip: 208, labelX: 1766, ylabX: 1703, ylabY: 560,
  x0: 1841, x1: 2022, barH: 2.7, vbBarH: 3.4,
  cbE: cd68CbEnergy, cbB: cd68CbBlue, cbR: cd68CbRed, vbE: cd68VbEnergy, vbB: cd68VbBlue, vbR: cd68VbRed,
  arrowBase: -4.73, arrows: [{ x: 1892, to: -3.226 }, { x: 1967, to: -2.78 }],
  shaft: 9, headW: 32, headL: 32, seX: 1841, peX: 2013, labY: 636,
};
const cd33BandCfg = {
  x0: 489, x1: 933, yTop: 380, yBottom: 934, tipTop: 338, tipRight: 979, labelX: 462,
  xTick: 13, xLabY: 984, timeX: 731, timeY: 1020, ylabX: 411, ylabY: 640, cbY: 669, vbY: 748, lw: 2.2,
  cbBase: cd33CbBase, cbDev: cd33CbDev, vbBase: cd33VbBase, vbDev: cd33VbDev,
};
const cd68BandCfg = {
  x0: 2175, x1: 2671, yTop: 256, yBottom: 875, tipTop: 203, tipRight: 2723, labelX: 2152,
  xTick: 19, xLabY: 933, timeX: 2446, timeY: 971, ylabX: 2088, ylabY: 547, cbY: 578, vbY: 657, lw: 3,
  cbBase: cd68CbBase, cbDev: cd68CbDev, vbBase: cd68VbBase, vbDev: cd68VbDev,
};
const cd33HistCfg = { xDomain: [-0.55, -0.3], x0: 1116, x1: 1518, y0: 926, y1: 328, xLabY: 966, eLabY: 1006, ylabX: 1007, data: cd33Hist };
const cd68HistCfg = { xDomain: [-0.45, -0.2], x0: 2890, x1: 3316, y0: 856, y1: 221, xLabY: 899, eLabY: 942, ylabX: 2775, data: cd68Hist };
const cd33PopCfg = {
  x0: 150, x1: 602, y0: 1655, y1: 1100, tipTop: 1057, tipRight: 623, labelX: 119, xLabY: 1704,
  timeX: 391, timeY: 1747, ylabX: 48, ylabY: 1327, dishPos: [553, 1129], fsshPos: [479, 1210],
  dish: cd33Dish, fssh: cd33Fssh,
};
const cd68PopCfg = {
  x0: 1795, x1: 2301, y0: 1685, y1: 1063, tipTop: 1016, tipRight: 2325, labelX: 1763, xLabY: 1740,
  timeX: 2064, timeY: 1789, ylabX: 1682, ylabY: 1314, dishPos: [2202, 1505], fsshPos: [2271, 1260],
  dish: cd68Dish, fssh: cd68Fssh,
};
const cd33SpecCfg = {
  x0: 751, x1: 1541, y0: 1649, y1: 1094, yMax: 60, yMinor: 5, yLabels: [10, 20, 30, 40, 50], yLabX: 732,
  xLabY: 1708, freqY: 1746, ylabX: 671, ylabY: 1376, fs: 26, lfs: 27, lw: 4.5, data: cd33Spectral,
  ix0: 1156, ix1: 1483, iy0: 1383, iy1: 1152, iyLabX: 1143, ixLabY: 1420, itimeY: 1455, idephX: 1076,
  note: "10fs", noteX: 1280, noteY: 1278, sqX: 1332, sqY: 1457, dephT: cd33DephT, deph: cd33Deph,
};
const cd68SpecCfg = {
  x0: 2467, x1: 3355, y0: 1676, y1: 1054, yMax: 20, yMinor: 2.5, yLabels: [5, 10, 15], yLabX: 2438,
  xLabY: 1740, freqY: 1789, ylabX: 2381, ylabY: 1370, fs: 29, lfs: 30, lw: 5, data: cd68Spectral,
  ix0: 2923, ix1: 3307, iy0: 1379, iy1: 1111, iyLabX: 2908, ixLabY: 1423, itimeY: 1459, idephX: 2832,
  note: "8fs", noteX: 3058, noteY: 1261, sqX: 3120, sqY: 1463, dephT: cd68DephT, deph: cd68Deph,
};

export default function App() {
  return (
    <svg width={W} height={H} viewBox={`0 0 ${W} ${H}`} fontFamily={SANS}
      style={{ position: "absolute", left: 0, top: 0, display: "block", background: "#fff" }}>
      <rect width={W} height={H} fill="#fff" />
      <text x={802} y={237} textAnchor="middle" fontFamily={TITLE_FONT} fontSize={52} fontWeight={300}
        textLength={200} lengthAdjust="spacingAndGlyphs">
        Cd<tspan fontSize={32} dy={9}>33</tspan><tspan dy={-9}>Se</tspan><tspan fontSize={32} dy={9}>33</tspan>
      </text>
      <text x={2527} y={97} textAnchor="middle" fontFamily={TITLE_FONT} fontSize={56} fontWeight={300}
        textLength={470} lengthAdjust="spacingAndGlyphs">
        Cd<tspan fontSize={34} dy={10}>68</tspan><tspan dy={-10}>Se</tspan><tspan fontSize={34} dy={10}>55</tspan>
        <tspan dy={-10}>(HCOO)</tspan><tspan fontSize={34} dy={10}>26</tspan>
      </text>
      <LevelDiagram c={cd33LevelCfg} />
      <BandTimeSeries c={cd33BandCfg} />
      <Histogram c={cd33HistCfg} />
      <LevelDiagram c={cd68LevelCfg} />
      <BandTimeSeries c={cd68BandCfg} />
      <Histogram c={cd68HistCfg} />
      <Population c={cd33PopCfg} />
      <Spectral c={cd33SpecCfg} />
      <Population c={cd68PopCfg} />
      <circle cx={2313} cy={1068} r={2.5} fill="#000" />
      <Spectral c={cd68SpecCfg} />
    </svg>
  );
}
